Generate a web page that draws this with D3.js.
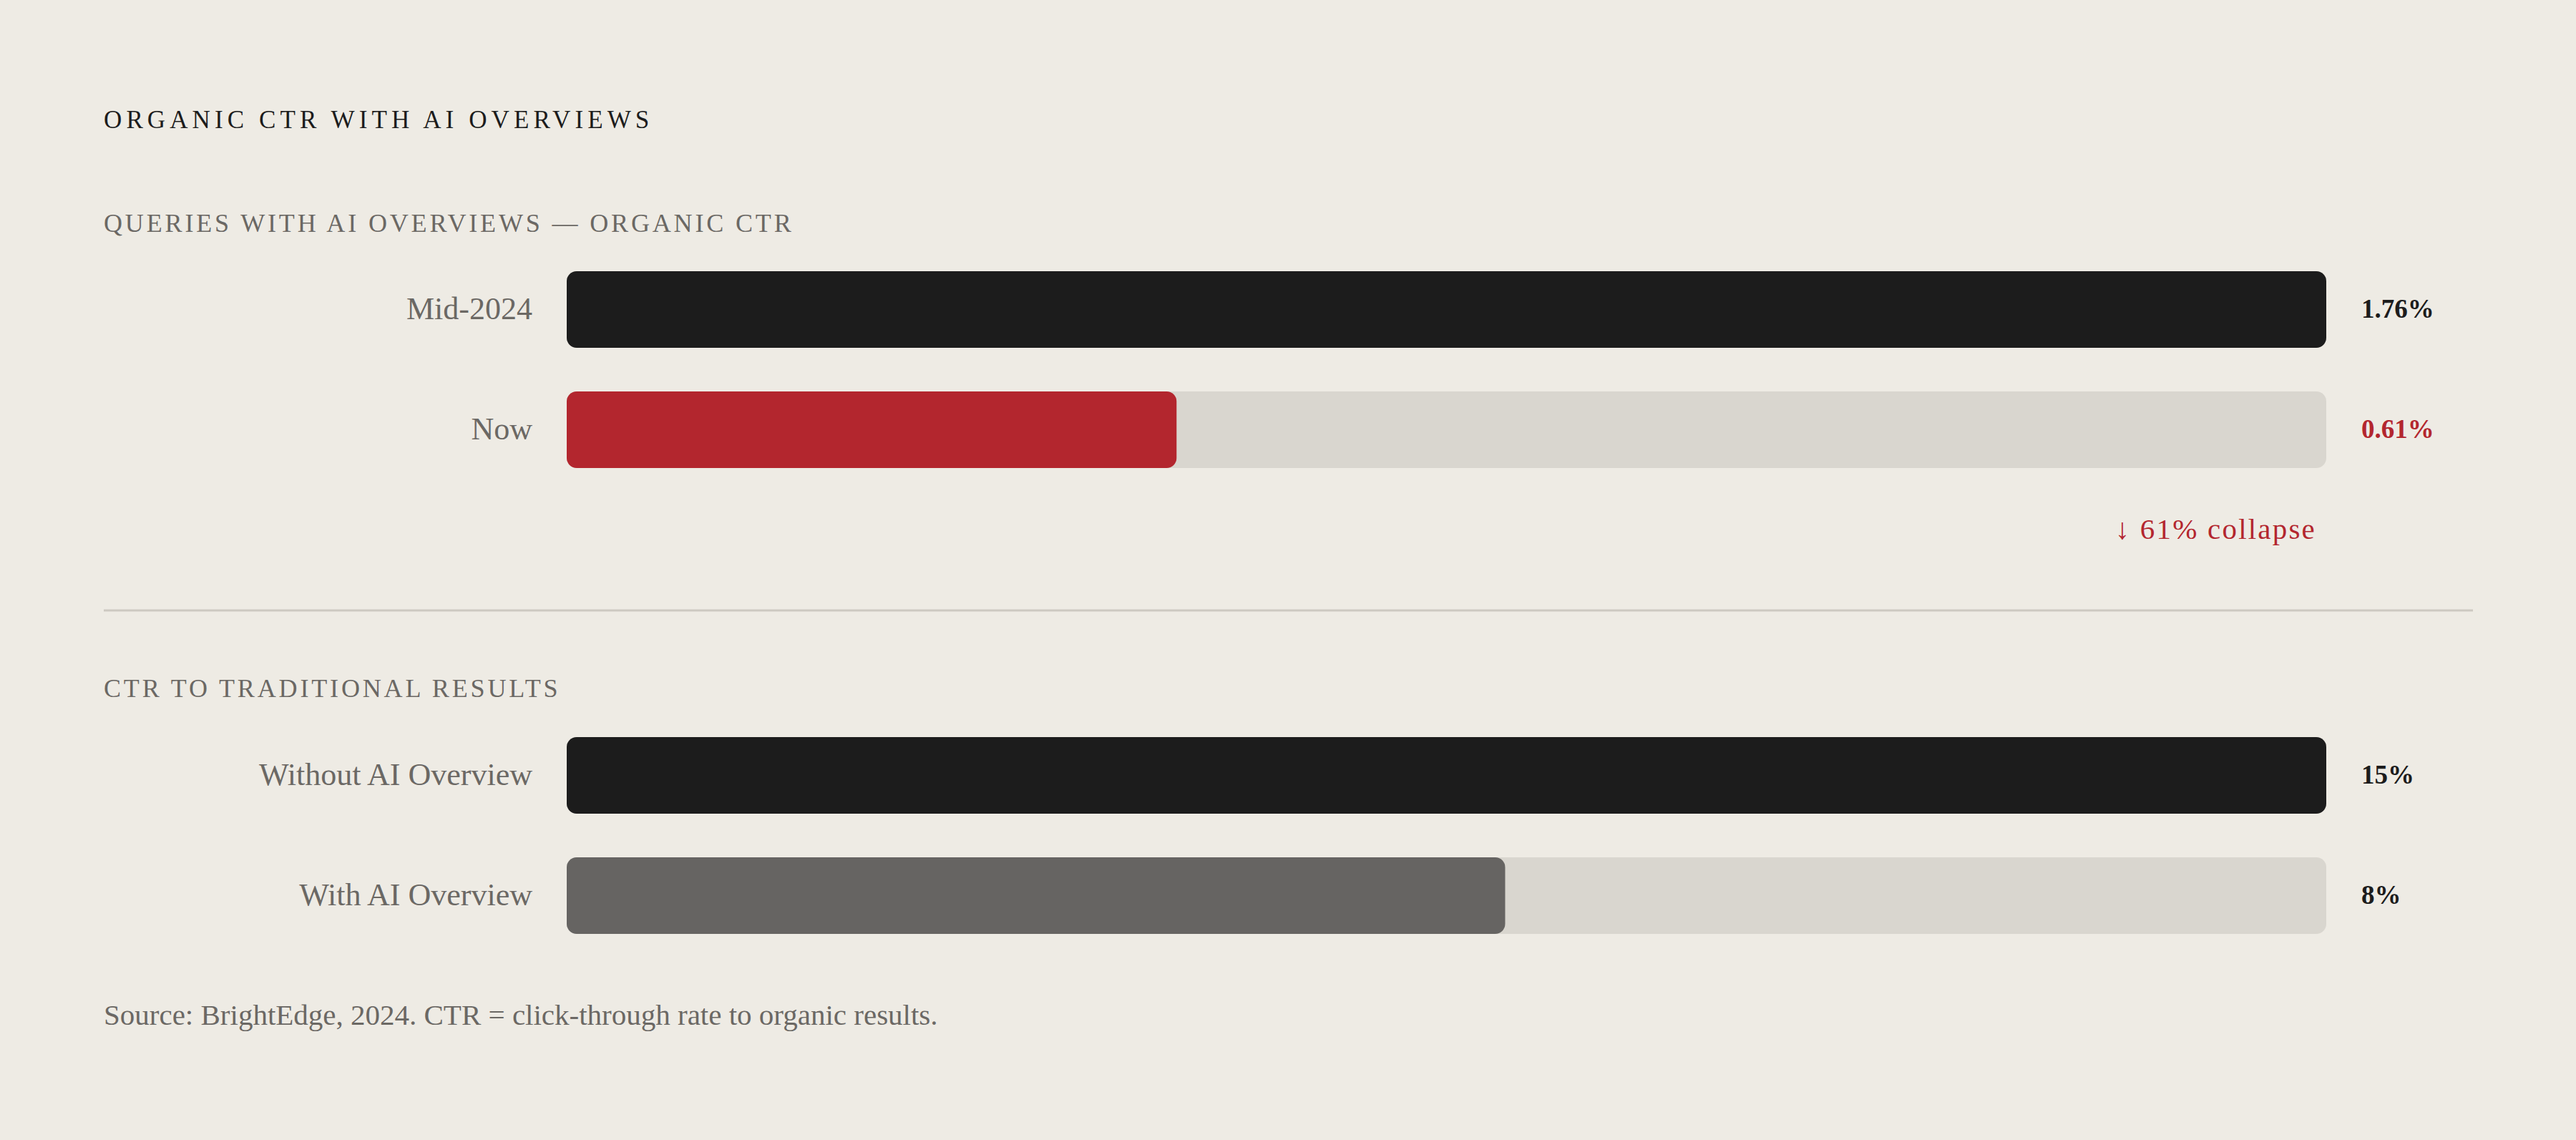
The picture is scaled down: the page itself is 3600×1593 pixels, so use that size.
<!DOCTYPE html>
<html>
<head>
<meta charset="utf-8">
<script src="https://cdn.jsdelivr.net/npm/d3@7"></script>
<style>
  html, body { margin: 0; padding: 0; background: #eeebe4; }
  svg { display: block; }
  text { font-family: "Liberation Serif", "DejaVu Serif", serif; }
</style>
</head>
<body>
<div id="chart"></div>
<script>
// data
const title = "ORGANIC CTR WITH AI OVERVIEWS";
const topHeading = "QUERIES WITH AI OVERVIEWS \u2014 ORGANIC CTR";
const topLabels = ["Mid-2024", "Now"];
const topValues = [1.76, 0.61];
const topText = ["1.76%", "0.61%"];
const bottomHeading = "CTR TO TRADITIONAL RESULTS";
const bottomLabels = ["Without AI Overview", "With AI Overview"];
const bottomValues = [15, 8];
const bottomText = ["15%", "8%"];
const note = "\u2193 61% collapse";
const source = "Source: BrightEdge, 2024. CTR = click-through rate to organic results.";

(function chart() {
    const width = 3600,
        height = 1593,
        margin = ({ left: 145, right: 144 });

    const barLeft = 792, barRight = 3251, radius = 14;
    const barH = 107, step = 168;

    const svg = d3.select("#chart")
        .append("svg")
        .attr("width", width)
        .attr("height", height)
        .attr("viewBox", [0, 0, width, height]);

    svg.append("rect")
        .attr("width", width)
        .attr("height", height)
        .attr("fill", "#eeebe4");

    // main title
    svg.append("text")
        .attr("x", margin.left)
        .attr("y", 179)
        .attr("font-size", 35)
        .attr("letter-spacing", "6.1px")
        .attr("fill", "#1c1c1c")
        .text(title);

    // draws one group of bars against its own scale
    function section(heading, headY, labels, values, texts, y0, fills, valueFills) {
        svg.append("text")
            .attr("x", margin.left)
            .attr("y", headY)
            .attr("font-size", 36)
            .attr("letter-spacing", "3.85px")
            .attr("fill", "#6b6864")
            .text(heading);

        let x = d3.scaleLinear()
            .domain([0, d3.max(values)])
            .range([barLeft, barRight]);

        let y = d3.scaleBand()
            .domain(labels)
            .range([y0, y0 + barH + step * (labels.length - 1)])
            .paddingInner(1 - barH / step)
            .paddingOuter(0);

        const g = svg.append("g");

        // background tracks
        g.selectAll("rect.track")
            .data(labels)
            .join("rect")
            .attr("class", "track")
            .attr("x", x(0))
            .attr("y", d => y(d))
            .attr("width", x.range()[1] - x(0))
            .attr("height", y.bandwidth())
            .attr("rx", radius)
            .attr("fill", "#d9d6cf");

        g.selectAll("rect.bar")
            .data(values)
            .join("rect")
            .attr("class", "bar")
            .attr("x", x(0))
            .attr("y", (d, i) => y(labels[i]))
            .attr("width", d => x(d) - x(0))
            .attr("height", y.bandwidth())
            .attr("rx", radius)
            .attr("fill", (d, i) => fills[i]);

        // category labels
        g.selectAll("text.label")
            .data(labels)
            .join("text")
            .attr("class", "label")
            .attr("x", barLeft - 48)
            .attr("y", d => y(d) + y.bandwidth() / 2)
            .attr("dy", "0.3em")
            .attr("text-anchor", "end")
            .attr("font-size", 44)
            .attr("fill", "#6b6864")
            .text(d => d);

        // value labels
        g.selectAll("text.value")
            .data(texts)
            .join("text")
            .attr("class", "value")
            .attr("x", barRight + 49)
            .attr("y", (d, i) => y(labels[i]) + y.bandwidth() / 2)
            .attr("dy", "0.3em")
            .attr("font-size", 37)
            .attr("font-weight", "bold")
            .attr("fill", (d, i) => valueFills[i])
            .text(d => d);

        return y;
    }

    section(topHeading, 324, topLabels, topValues, topText, 379,
        ["#1c1c1c", "#b3262e"], ["#1c1c1c", "#b3262e"]);

    svg.append("text")
        .attr("x", 3237)
        .attr("y", 753)
        .attr("text-anchor", "end")
        .attr("font-size", 41)
        .attr("letter-spacing", "2.2px")
        .attr("fill", "#b3262e")
        .text(note);

    // divider
    svg.append("line")
        .attr("x1", margin.left)
        .attr("x2", width - margin.right)
        .attr("y1", 853)
        .attr("y2", 853)
        .attr("stroke", "#cdc9c1")
        .attr("stroke-width", 3);

    section(bottomHeading, 974, bottomLabels, bottomValues, bottomText, 1030,
        ["#1c1c1c", "#666462"], ["#1c1c1c", "#1c1c1c"]);

    svg.append("text")
        .attr("x", margin.left)
        .attr("y", 1432)
        .attr("font-size", 41)
        .attr("fill", "#6b6864")
        .text(source);
})();
</script>
</body>
</html>
